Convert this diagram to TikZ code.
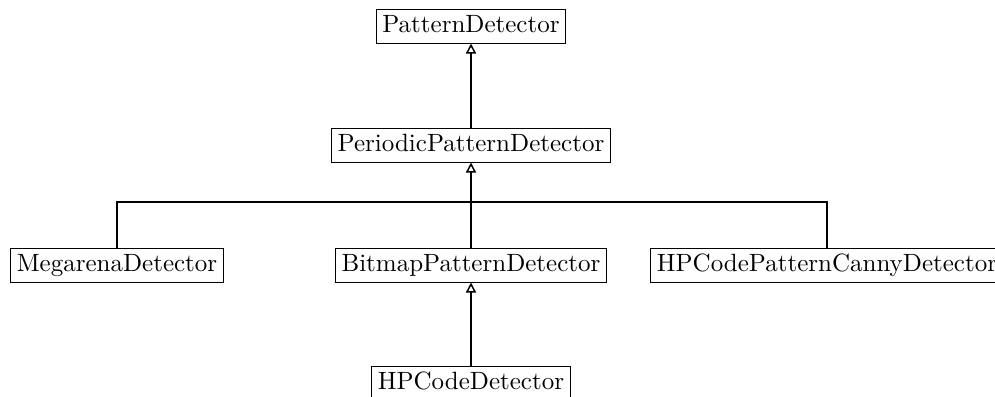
\documentclass[tikz,border=0pt]{standalone}
\usepackage{tikz}
\usetikzlibrary{arrows.meta, positioning}

\begin{document}
\begin{tikzpicture}[x=0.4pt,y=-0.4pt,
    cls/.style={draw, fill=white, inner xsep=2.5pt, inner ysep=2.4pt,
      text height=6.9pt, text depth=1.9pt, font=\normalsize},
    inherit/.style={-{Triangle[open,length=4pt,width=4pt]}, semithick}]
			\useasboundingbox (0,0) rectangle (995,396);
			% classes
			\node[cls] (base) at (471,26) {PatternDetector};
			\node[cls] (periodic) at (471,145) {PeriodicPatternDetector};
			\node[cls] (megarena) at (117,265) {MegarenaDetector};
			\node[cls] (bitmap) at (471,265) {BitmapPatternDetector};
			\node[cls] (canny) at (827,265) {HPCodePatternCannyDetector};
			\node[cls,anchor=north] (hpcode) at (471,366) {HPCodeDetector};
			% bus
			\coordinate (bus) at (471,202);
			% inheritance
			\draw[inherit] (periodic) -- (base);
			\draw[semithick] (megarena.north) |- (bus) -| (canny.north);
			\draw[inherit] (bitmap) -- (periodic);
			\draw[inherit] (hpcode) -- (bitmap);
		\end{tikzpicture}
\end{document}
